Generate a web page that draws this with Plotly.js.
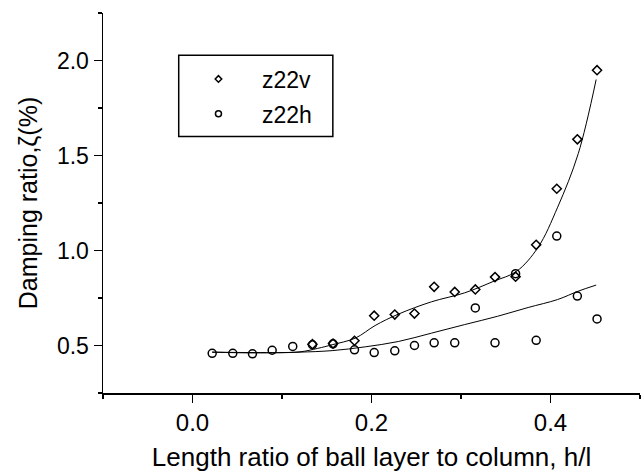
<!DOCTYPE html>
<html>
<head>
<meta charset="utf-8">
<script src="https://cdn.plot.ly/plotly-3.0.1.min.js"></script>
<style>html,body{margin:0;padding:0;background:#fff}#chart{width:644px;height:474px}</style>
</head>
<body>
<div id="chart"></div>
<script>
// Measured data
var xV = [0.134, 0.157, 0.181, 0.203, 0.226, 0.248, 0.270, 0.293, 0.316, 0.338, 0.361, 0.384, 0.407, 0.430, 0.452];
var yV = [0.507, 0.510, 0.525, 0.657, 0.663, 0.668, 0.809, 0.782, 0.795, 0.860, 0.862, 1.030, 1.325, 1.585, 1.949];

var xH = [0.022, 0.045, 0.067, 0.089, 0.112, 0.134, 0.157, 0.181, 0.203, 0.226, 0.248, 0.270, 0.293, 0.316, 0.338, 0.361, 0.384, 0.407, 0.430, 0.452];
var yH = [0.459, 0.459, 0.456, 0.475, 0.495, 0.504, 0.509, 0.477, 0.463, 0.472, 0.500, 0.514, 0.514, 0.698, 0.514, 0.878, 0.527, 1.076, 0.760, 0.640];

// Fitted curves
var xFitV = [0.022, 0.070, 0.119, 0.140, 0.156, 0.182, 0.204, 0.230, 0.267, 0.304, 0.337, 0.362, 0.386, 0.408, 0.431, 0.451];
var yFitV = [0.465, 0.463, 0.466, 0.485, 0.504, 0.539, 0.605, 0.665, 0.730, 0.777, 0.839, 0.890, 1.016, 1.228, 1.510, 1.900];

var xFitH = [0.022, 0.070, 0.119, 0.156, 0.193, 0.230, 0.267, 0.304, 0.341, 0.375, 0.408, 0.431, 0.451];
var yFitH = [0.465, 0.461, 0.465, 0.473, 0.493, 0.521, 0.565, 0.610, 0.654, 0.700, 0.742, 0.786, 0.818];

var names = ['z22v', 'z22h'];
var xTicks = [0.0, 0.2, 0.4];
var xTickText = ['0.0', '0.2', '0.4'];
var yTicks = [0.5, 1.0, 1.5, 2.0];
var yTickText = ['0.5', '1.0', '1.5', '2.0'];

var FONT = 'Liberation Sans, Arial, Helvetica, sans-serif';

var traces = [
  {x: xFitV, y: yFitV, mode: 'lines', line: {color: '#000', width: 1, shape: 'spline', smoothing: 1}, showlegend: false, hoverinfo: 'skip'},
  {x: xFitH, y: yFitH, mode: 'lines', line: {color: '#000', width: 1, shape: 'spline', smoothing: 1}, showlegend: false, hoverinfo: 'skip'},
  {x: xV, y: yV, mode: 'markers', name: names[0], showlegend: false,
   marker: {symbol: 'diamond-open', size: 7, color: '#000', line: {width: 1.5, color: '#000'}}},
  {x: xH, y: yH, mode: 'markers', name: names[1], showlegend: false,
   marker: {symbol: 'circle-open', size: 8, color: '#000', line: {width: 1.5, color: '#000'}}},
  // legend entries (smaller symbols as in the original legend)
  {x: [null], y: [null], mode: 'markers', name: names[0], legendgroup: 'a',
   marker: {symbol: 'diamond-open', size: 5, color: '#000', line: {width: 1.5, color: '#000'}}},
  {x: [null], y: [null], mode: 'markers', name: names[1], legendgroup: 'b',
   marker: {symbol: 'circle-open', size: 6, color: '#000', line: {width: 1.5, color: '#000'}}}
];

var layout = {
  width: 644, height: 474,
  margin: {l: 103, r: 4, t: 13, b: 81, pad: 0},
  paper_bgcolor: '#fff', plot_bgcolor: '#fff',
  font: {family: FONT, color: '#000', size: 24},
  showlegend: true,
  legend: {
    x: 0.134, y: 0.883, xanchor: 'left', yanchor: 'top',
    bgcolor: 'rgba(0,0,0,0)', borderwidth: 0,
    font: {family: FONT, size: 23, color: '#000'},
    traceorder: 'grouped', tracegroupgap: 2, itemwidth: 77
  },
  xaxis: {
    range: [-0.1, 0.5], showgrid: false, zeroline: false,
    showline: true, linecolor: '#000', linewidth: 1.5, mirror: false,
    ticks: 'outside', ticklen: 8, tickwidth: 1.5, tickcolor: '#000',
    tickvals: xTicks, ticktext: xTickText,
    minor: {dtick: 0.1, tick0: 0, ticks: 'outside', ticklen: 4, tickwidth: 1.5, tickcolor: '#000', showgrid: false},
    tickfont: {family: FONT, size: 24, color: '#000'},
    title: {text: 'Length ratio of ball layer to column, h/l', font: {family: FONT, size: 26, color: '#000'}, standoff: 12},
    automargin: false
  },
  yaxis: {
    range: [0.25, 2.25], showgrid: false, zeroline: false,
    showline: true, linecolor: '#000', linewidth: 1.5, mirror: false,
    ticks: 'outside', ticklen: 8, tickwidth: 1.5, tickcolor: '#000',
    tickvals: yTicks, ticktext: yTickText,
    minor: {dtick: 0.25, tick0: 0.25, ticks: 'outside', ticklen: 4, tickwidth: 1.5, tickcolor: '#000', showgrid: false},
    tickfont: {family: FONT, size: 23, color: '#000'},
    title: {text: 'Damping ratio,ζ(%)', font: {family: FONT, size: 25, color: '#000'}, standoff: 12},
    automargin: false
  },
  shapes: [
    {type: 'rect', xref: 'paper', yref: 'paper', x0: 0.141, x1: 0.428, y0: 0.675, y1: 0.889,
     line: {color: '#000', width: 1.5}, fillcolor: 'rgba(0,0,0,0)'}
  ]
};

Plotly.newPlot('chart', traces, layout, {displayModeBar: false, staticPlot: true});
</script>
</body>
</html>
